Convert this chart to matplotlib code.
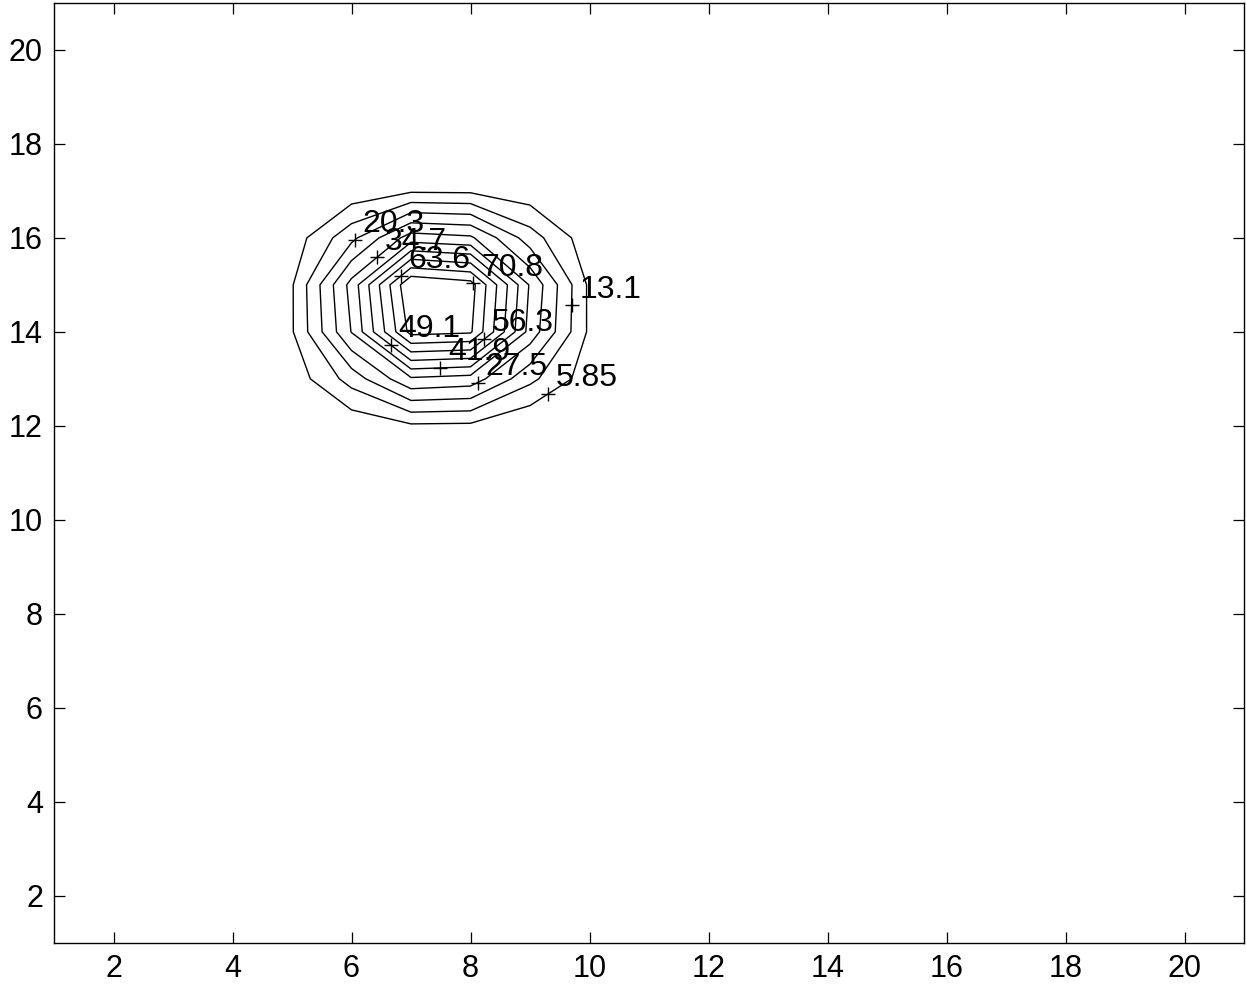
import numpy as np
import matplotlib
matplotlib.use("Agg")
import matplotlib.pyplot as plt

# ---- data -------------------------------------------------------------
x_grid = list(range(1, 22))
y_grid = list(range(1, 22))
background = 0.0

# non-background block of the field (rows = y, columns = x)
patch_x = [5, 6, 7, 8, 9, 10]
patch_y = [12, 13, 14, 15, 16, 17]
row_y12 = [0.3, 0.6, 4.7, 4.4, -1.05, 0.3]
row_y13 = [1.3, 16.1, 33.6, 31.7, 15.0, 1.9]
row_y14 = [5.2, 35.0, 73.3, 71.8, 31.9, 4.5]
row_y15 = [5.2, 37.3, 78.0, 74.0, 33.9, 4.4]
row_y16 = [1.7, 18.3, 38.2, 36.0, 16.6, 1.2]
row_y17 = [0.3, 1.0, 4.85, 4.6, 1.2, 0.3]
patch_rows = [row_y12, row_y13, row_y14, row_y15, row_y16, row_y17]

levels = [5.85, 13.064, 20.278, 27.492, 34.706, 41.920, 49.134, 56.348, 63.562, 70.776]
# approximate spots where each level's label sits (snapped onto the line)
label_spots = [(9.30, 12.68), (9.72, 14.56), (6.09, 15.92), (8.13, 12.91),
               (6.42, 15.59), (7.49, 13.23), (6.65, 13.71), (8.18, 13.90),
               (6.82, 15.20), (8.08, 15.06)]

x_ticks = [2, 4, 6, 8, 10, 12, 14, 16, 18, 20]
y_ticks = [2, 4, 6, 8, 10, 12, 14, 16, 18, 20]

# ---- build field ------------------------------------------------------
X = np.array(x_grid, dtype=float)
Y = np.array(y_grid, dtype=float)
Z = np.full((len(Y), len(X)), background)
for j, yy in enumerate(patch_y):
    for i, xx in enumerate(patch_x):
        Z[y_grid.index(yy), x_grid.index(xx)] = patch_rows[j][i]

FONT = "Liberation Sans"
FS_TICK = 22
FS_LABEL = 23
plt.rcParams["font.family"] = [FONT, "DejaVu Sans"]

fig = plt.figure(figsize=(12.46, 9.89), dpi=100)
ax = fig.add_axes([54 / 1246, 46.5 / 989, 1190 / 1246, 939.5 / 989])

cs = ax.contour(X, Y, Z, levels=levels, colors="k", linewidths=1.0)


def nearest_on_paths(segs, p):
    best = None
    p = np.asarray(p, dtype=float)
    for seg in segs:
        if len(seg) < 2:
            continue
        a = seg[:-1]
        b = seg[1:]
        ab = b - a
        den = np.maximum((ab ** 2).sum(1), 1e-12)
        t = np.clip(((p - a) * ab).sum(1) / den, 0, 1)
        q = a + t[:, None] * ab
        d = ((q - p) ** 2).sum(1)
        k = d.argmin()
        if best is None or d[k] < best[0]:
            best = (d[k], q[k])
    return best[1]


for lev, segs, spot in zip(levels, cs.allsegs, label_spots):
    q = nearest_on_paths(segs, spot)
    ax.plot([q[0]], [q[1]], marker="+", color="k", ms=10.5, mew=1.0, ls="none")
    ax.annotate(f"{lev:.3g}", (q[0], q[1]), xytext=(5.5, 5.5),
                textcoords="offset points", ha="left", va="baseline",
                fontsize=FS_LABEL, family=[FONT, "DejaVu Sans"])

ax.set_xlim(1, 21)
ax.set_ylim(1, 21)
ax.set_xticks(x_ticks)
ax.set_yticks(y_ticks)
ax.tick_params(direction="in", length=8, width=0.9, top=True, right=True,
               labelsize=FS_TICK, pad=8)
for s in ax.spines.values():
    s.set_linewidth(1.0)

fig.savefig("out.png", dpi=100)
